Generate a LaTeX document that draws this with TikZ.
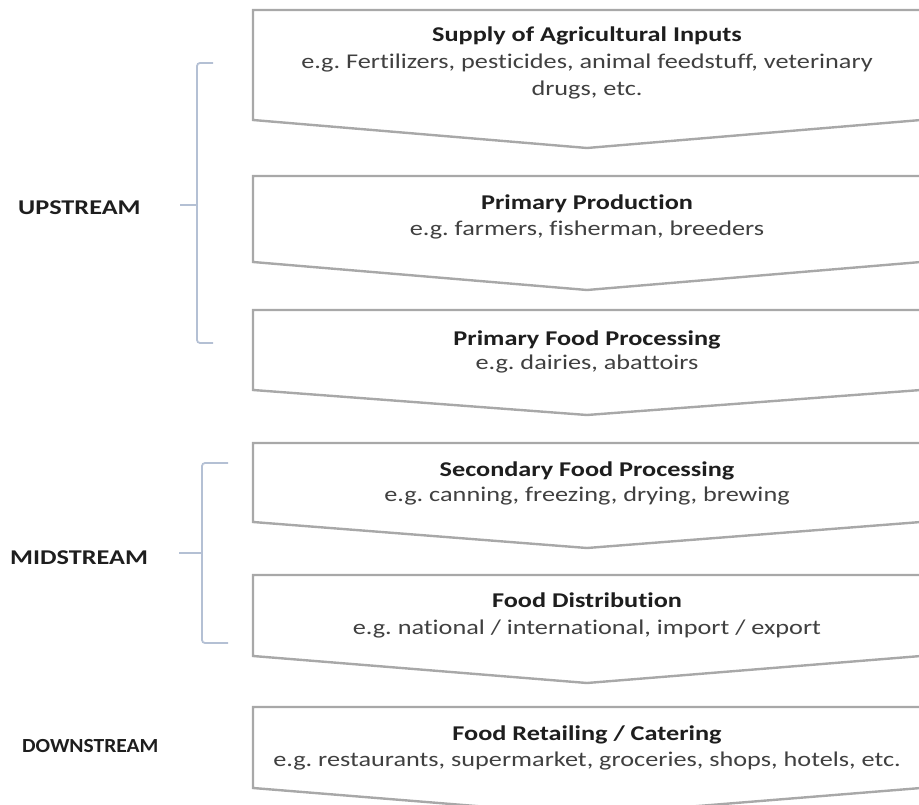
\documentclass[tikz,border=0pt]{standalone}
\usepackage{fontspec}
\setmainfont{Carlito}[FakeStretch=1.25, Ligatures={NoCommon}]
\definecolor{boxgray}{HTML}{A8A8A8}
\definecolor{titleblack}{HTML}{1E1E1E}
\definecolor{detailgray}{HTML}{404040}
\definecolor{bracecol}{HTML}{B4C0D4}
% chevron-shaped stage box: #1 top, #2 side bottom, #3 tip
\newcommand\stagebox[3]{%
  \path[stagebox] (253,#1) -- (921,#1) -- (921,#2) -- (587,#3) -- (253,#2) -- cycle;}
\begin{document}
\frenchspacing
\begin{tikzpicture}[x=1pt,y=-1pt,
  stagebox/.style={draw=boxgray, line width=2.4pt, fill=white, line join=miter},
  title/.style={font=\bfseries\fontsize{21}{27}\selectfont, text=titleblack, anchor=base, inner sep=0pt},
  detail/.style={font=\fontsize{21}{27}\selectfont, text=detailgray, anchor=base, inner sep=0pt, align=center},
  phase/.style={font=\bfseries\fontsize{21}{25}\selectfont, text=titleblack, anchor=base west, inner sep=0pt},
  brace/.style={draw=bracecol, line width=1.8pt, rounded corners=3pt}]
\useasboundingbox (0,0) rectangle (919,805);
\clip (0,0) rectangle (919,805);

% stage boxes
\stagebox{10}{120}{148}
\stagebox{176}{262}{290}
\stagebox{310}{390}{415}
\stagebox{443}{522}{548}
\stagebox{575}{656}{683}
\stagebox{707}{788}{815}

% stage texts
\node[title]  (s1t) at (587,42) {Supply of Agricultural Inputs};
\node[detail] (s1d) at (587,69) {e.g. Fertilizers, pesticides, animal feedstuff, veterinary};
\node[detail] (s1e) at (587,96) {drugs, etc.};
\node[title]  (s2t) at (587,210) {Primary Production};
\node[detail] (s2d) at (587,236) {e.g. farmers, fisherman, breeders};
\node[title]  (s3t) at (587,345) {Primary Food Processing};
\node[detail] (s3d) at (587,369) {e.g. dairies, abattoirs};
\node[title]  (s4t) at (587,476) {Secondary Food Processing};
\node[detail] (s4d) at (587,501) {e.g. canning, freezing, drying, brewing};
\node[title]  (s5t) at (587,607) {Food Distribution};
\node[detail] (s5d) at (587,634) {e.g. national / international, import / export};
\node[title]  (s6t) at (587,740) {Food Retailing / Catering};
\node[detail] (s6d) at (587,766) {e.g. restaurants, supermarket, groceries, shops, hotels, etc.};

% phase labels
\node[phase] (up)   at (18,215) {UPSTREAM};
\node[phase] (mid)  at (10,564) {MIDSTREAM};
\node[phase, font=\bfseries\fontsize{20}{24}\selectfont] (down) at (22,752) {\scalebox{0.86}[1]{DOWNSTREAM}};

% brackets grouping the stages
\draw[brace] (213,63) -- (197,63) -- (197,343) -- (213,343);
\draw[brace] (197,205) -- (180,205);
\draw[brace] (228,463) -- (202,463) -- (202,643) -- (228,643);
\draw[brace] (202,553) -- (179,553);
\end{tikzpicture}
\end{document}
